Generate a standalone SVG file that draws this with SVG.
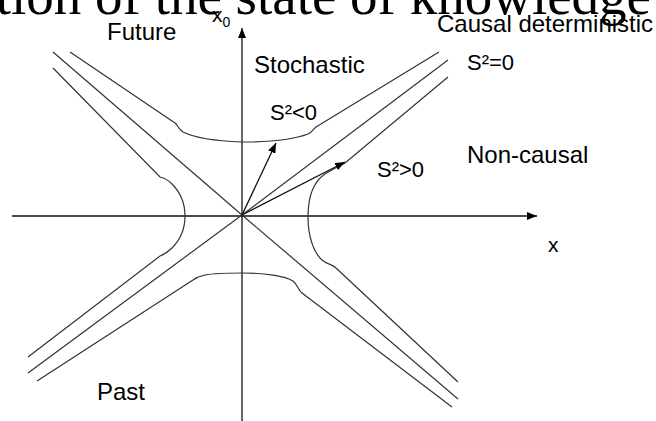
<svg xmlns="http://www.w3.org/2000/svg" width="656" height="421" viewBox="0 0 656 421">
<style>
  .lbl { font-family: "Liberation Sans", Arial, sans-serif; font-size: 24px; fill: #000; }
  .s2 { font-family: "Liberation Sans", Arial, sans-serif; font-size: 22px; fill: #000; }
  .title { font-family: "Liberation Serif", "Times New Roman", serif; font-size: 55px; fill: #000; }
  .ln { fill: none; stroke: #333; stroke-width: 1.2; }
  .ax { fill: none; stroke: #111; stroke-width: 1.5; }
  .arr { fill: none; stroke: #111; stroke-width: 1.3; marker-end: url(#ah); }
</style>
<defs>
  <marker id="ah" viewBox="0 0 10 8" refX="10" refY="4" markerWidth="10" markerHeight="8" markerUnits="userSpaceOnUse" orient="auto">
    <path d="M0,0 L10,4 L0,8 Z" fill="#000"/>
  </marker>
</defs>
<rect width="656" height="421" fill="#fff"/>
<g id="title"><text class="title" x="651" y="14" text-anchor="end">tion of the state of knowledge</text></g>
<g id="axes">
  <path class="arr ax" d="M12,216 L537,216" style="marker-end:url(#ah)"/>
  <path class="arr ax" d="M242,421 L242,28" style="marker-end:url(#ah)"/>
</g>
<g id="connectors">
  <path id="asym-ul" class="ln" d="M53,52 L242,215"/>
  <path id="asym-ur" class="ln" d="M242,215 L448,60"/>
  <path id="asym-ll" class="ln" d="M28,373 L242,215"/>
  <path id="asym-lr" class="ln" d="M242,215 L458,399"/>
  <path id="hyp-top" class="ln" d="M70,52 L175,123 C178,125 178,129 183,132 C195,138 215,141 242,142 C270,142 295,139 308,134 C313,132 313,129 316,127 L439,52"/>
  <path id="hyp-left" class="ln" d="M53,68 L160,177 C165,178 168,180 172,184 C180,192 185,203 185,216 C185,229 180,240 172,248 C168,252 165,254 160,256 L28,357"/>
  <path id="hyp-right" class="ln" d="M448,77 L345,163 C340,166 335,168 325,174 C313,182 308,198 308,217 C308,235 313,252 322,260 C328,265 332,264 336,268 L458,382"/>
  <path id="hyp-bottom" class="ln" d="M37,381 L193,280 C197,277 200,276 205,275 C215,273 230,273 243,273 C265,273 285,276 293,281 C298,285 298,290 302,293 L452,407"/>
  <path id="vec-timelike" class="arr" d="M242,215 L276,143"/>
  <path id="vec-spacelike" class="arr" d="M242,215 L345,162"/>
</g>
<g id="label-x0"><text class="lbl" x="212" y="22" style="font-size:21px">x<tspan dy="5" style="font-size:14px">0</tspan></text></g>
<g id="label-future"><text class="lbl" x="107" y="40">Future</text></g>
<g id="label-causal"><text class="lbl" x="437" y="32">Causal deterministic</text></g>
<g id="label-stochastic"><text class="lbl" x="254" y="73">Stochastic</text></g>
<g id="label-s2eq"><text class="s2" x="467" y="70">S²=0</text></g>
<g id="label-s2lt"><text class="s2" x="270" y="120">S²&lt;0</text></g>
<g id="label-noncausal"><text class="lbl" x="467" y="163">Non-causal</text></g>
<g id="label-s2gt"><text class="s2" x="377" y="177">S²&gt;0</text></g>
<g id="label-x"><text class="lbl" x="548" y="252" style="font-size:21px">x</text></g>
<g id="label-past"><text class="lbl" x="97" y="400">Past</text></g>
</svg>
